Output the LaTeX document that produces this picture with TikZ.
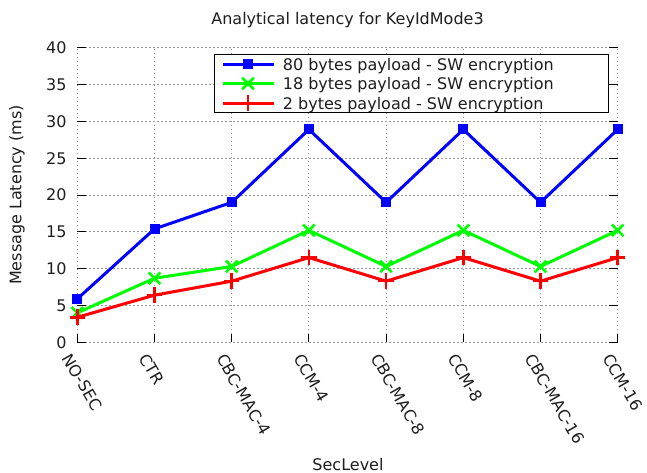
\documentclass[tikz,border=0pt]{standalone}
\usepackage{fontspec}
\setmainfont{DejaVu Sans}
\usetikzlibrary{shapes.misc}
\definecolor{gridgray}{RGB}{150,150,150}
\definecolor{txtgray}{RGB}{30,30,30}
\tikzset{
  gridline/.style={gridgray, line width=0.9pt, dash pattern=on 1.2pt off 2.8pt},
  tickmark/.style={black, line width=1pt},
  series/.style={line width=3pt, line join=round, line cap=round},
  sqmark/.style={rectangle, fill=#1, inner sep=0pt, minimum size=10pt},
  xmark/.style={cross out, draw=#1, line width=2.6pt, inner sep=0pt, minimum size=9pt},
  plusmark/.style={cross out, draw=#1, line width=2.6pt, inner sep=0pt, minimum size=8.4pt, rotate=45},
  ylabelnode/.style={anchor=east, inner sep=0pt, text=txtgray},
  xlabelnode/.style={anchor=north west, inner sep=0pt, rotate=-60, text=txtgray},
}
\begin{document}
\begin{tikzpicture}[x=1pt, y=-1pt, font=\fontsize{16}{19}\selectfont]
\useasboundingbox (0,0) rectangle (647,472);
\fill[white] (0,0) rectangle (647,472);

% title and axis titles
\node[anchor=base, inner sep=0pt, text=txtgray] (title) at (347.5,24) {Analytical latency for KeyIdMode3};
\node[anchor=base, inner sep=0pt, text=txtgray] (xtitle) at (348,470) {SecLevel};
\node[rotate=90, inner sep=0pt, text=txtgray] (ytitle) at (17,195) {Message Latency (ms)};

% plot area: categories 0..7 horizontally, latency 0..40 ms vertically
\begin{scope}[shift={(77.3,342.3)}, x=77.2pt, y=7.365pt]
  % grid
  \foreach \v in {0,5,...,40} \draw[gridline] (0,\v) -- (7,\v);
  \foreach \i in {0,...,7} \draw[gridline] (\i,0) -- (\i,40);
  % tick marks
  \foreach \v in {0,5,...,40} {
    \draw[tickmark] (0,\v) -- ++(8.5pt,0);
    \draw[tickmark] (7,\v) -- ++(-8.5pt,0);
    \node[ylabelnode] (yl\v) at ([xshift=-10.5pt]0,\v) {\v};
  }
  \foreach \i in {0,...,7} \draw[tickmark] (\i,0) -- ++(0,8.5pt);
  % category labels
  \foreach \lab [count=\k from 0] in {NO-SEC,CTR,CBC-MAC-4,CCM-4,CBC-MAC-8,CCM-8,CBC-MAC-16,CCM-16}
    \node[xlabelnode] (xl\k) at ([xshift=-5.3pt, yshift=-9.8pt]\k,0) {\lab};

  % data points
  \foreach \v [count=\k from 0] in {5.9,15.4,19.0,28.9,19.0,28.9,19.0,28.9}
    \coordinate (b\k) at (\k,\v);
  \foreach \v [count=\k from 0] in {4.0,8.7,10.3,15.2,10.3,15.2,10.3,15.2}
    \coordinate (g\k) at (\k,\v);
  \foreach \v [count=\k from 0] in {3.4,6.4,8.3,11.5,8.3,11.5,8.3,11.5}
    \coordinate (r\k) at (\k,\v);

  % 80 bytes payload
  \draw[series, blue] (b0) -- (b1) -- (b2) -- (b3) -- (b4) -- (b5) -- (b6) -- (b7);
  \foreach \k in {0,...,7} \node[sqmark=blue] (bm\k) at (b\k) {};
  % 18 bytes payload
  \draw[series, green] (g0) -- (g1) -- (g2) -- (g3) -- (g4) -- (g5) -- (g6) -- (g7);
  \foreach \k in {0,...,7} \node[xmark=green] (gm\k) at (g\k) {};
  % 2 bytes payload
  \draw[series, red] (r0) -- (r1) -- (r2) -- (r3) -- (r4) -- (r5) -- (r6) -- (r7);
  \foreach \k in {0,...,7} \node[plusmark=red] (rm\k) at (r\k) {};
\end{scope}

% legend
\node[draw=black, fill=white, line width=1pt, anchor=north west, inner sep=0pt,
      minimum width=394pt, minimum height=58pt] (legend) at (213.7,54.3) {};
\foreach \col/\mk/\txt/\yy [count=\k] in {
    blue/sqmark/80 bytes payload - SW encryption/64,
    green/xmark/18 bytes payload - SW encryption/83.5,
    red/plusmark/2 bytes payload - SW encryption/103} {
  \coordinate (la\k) at (222.7,\yy);
  \coordinate (lb\k) at (274,\yy);
  \draw[series, \col, line cap=butt] (la\k) -- (lb\k);
  \node[\mk=\col] (lm\k) at (248,\yy) {};
  \node[anchor=base west, inner sep=0pt, text=txtgray] (lt\k) at (282.7,\yy+6) {\txt};
}
\end{tikzpicture}
\end{document}
